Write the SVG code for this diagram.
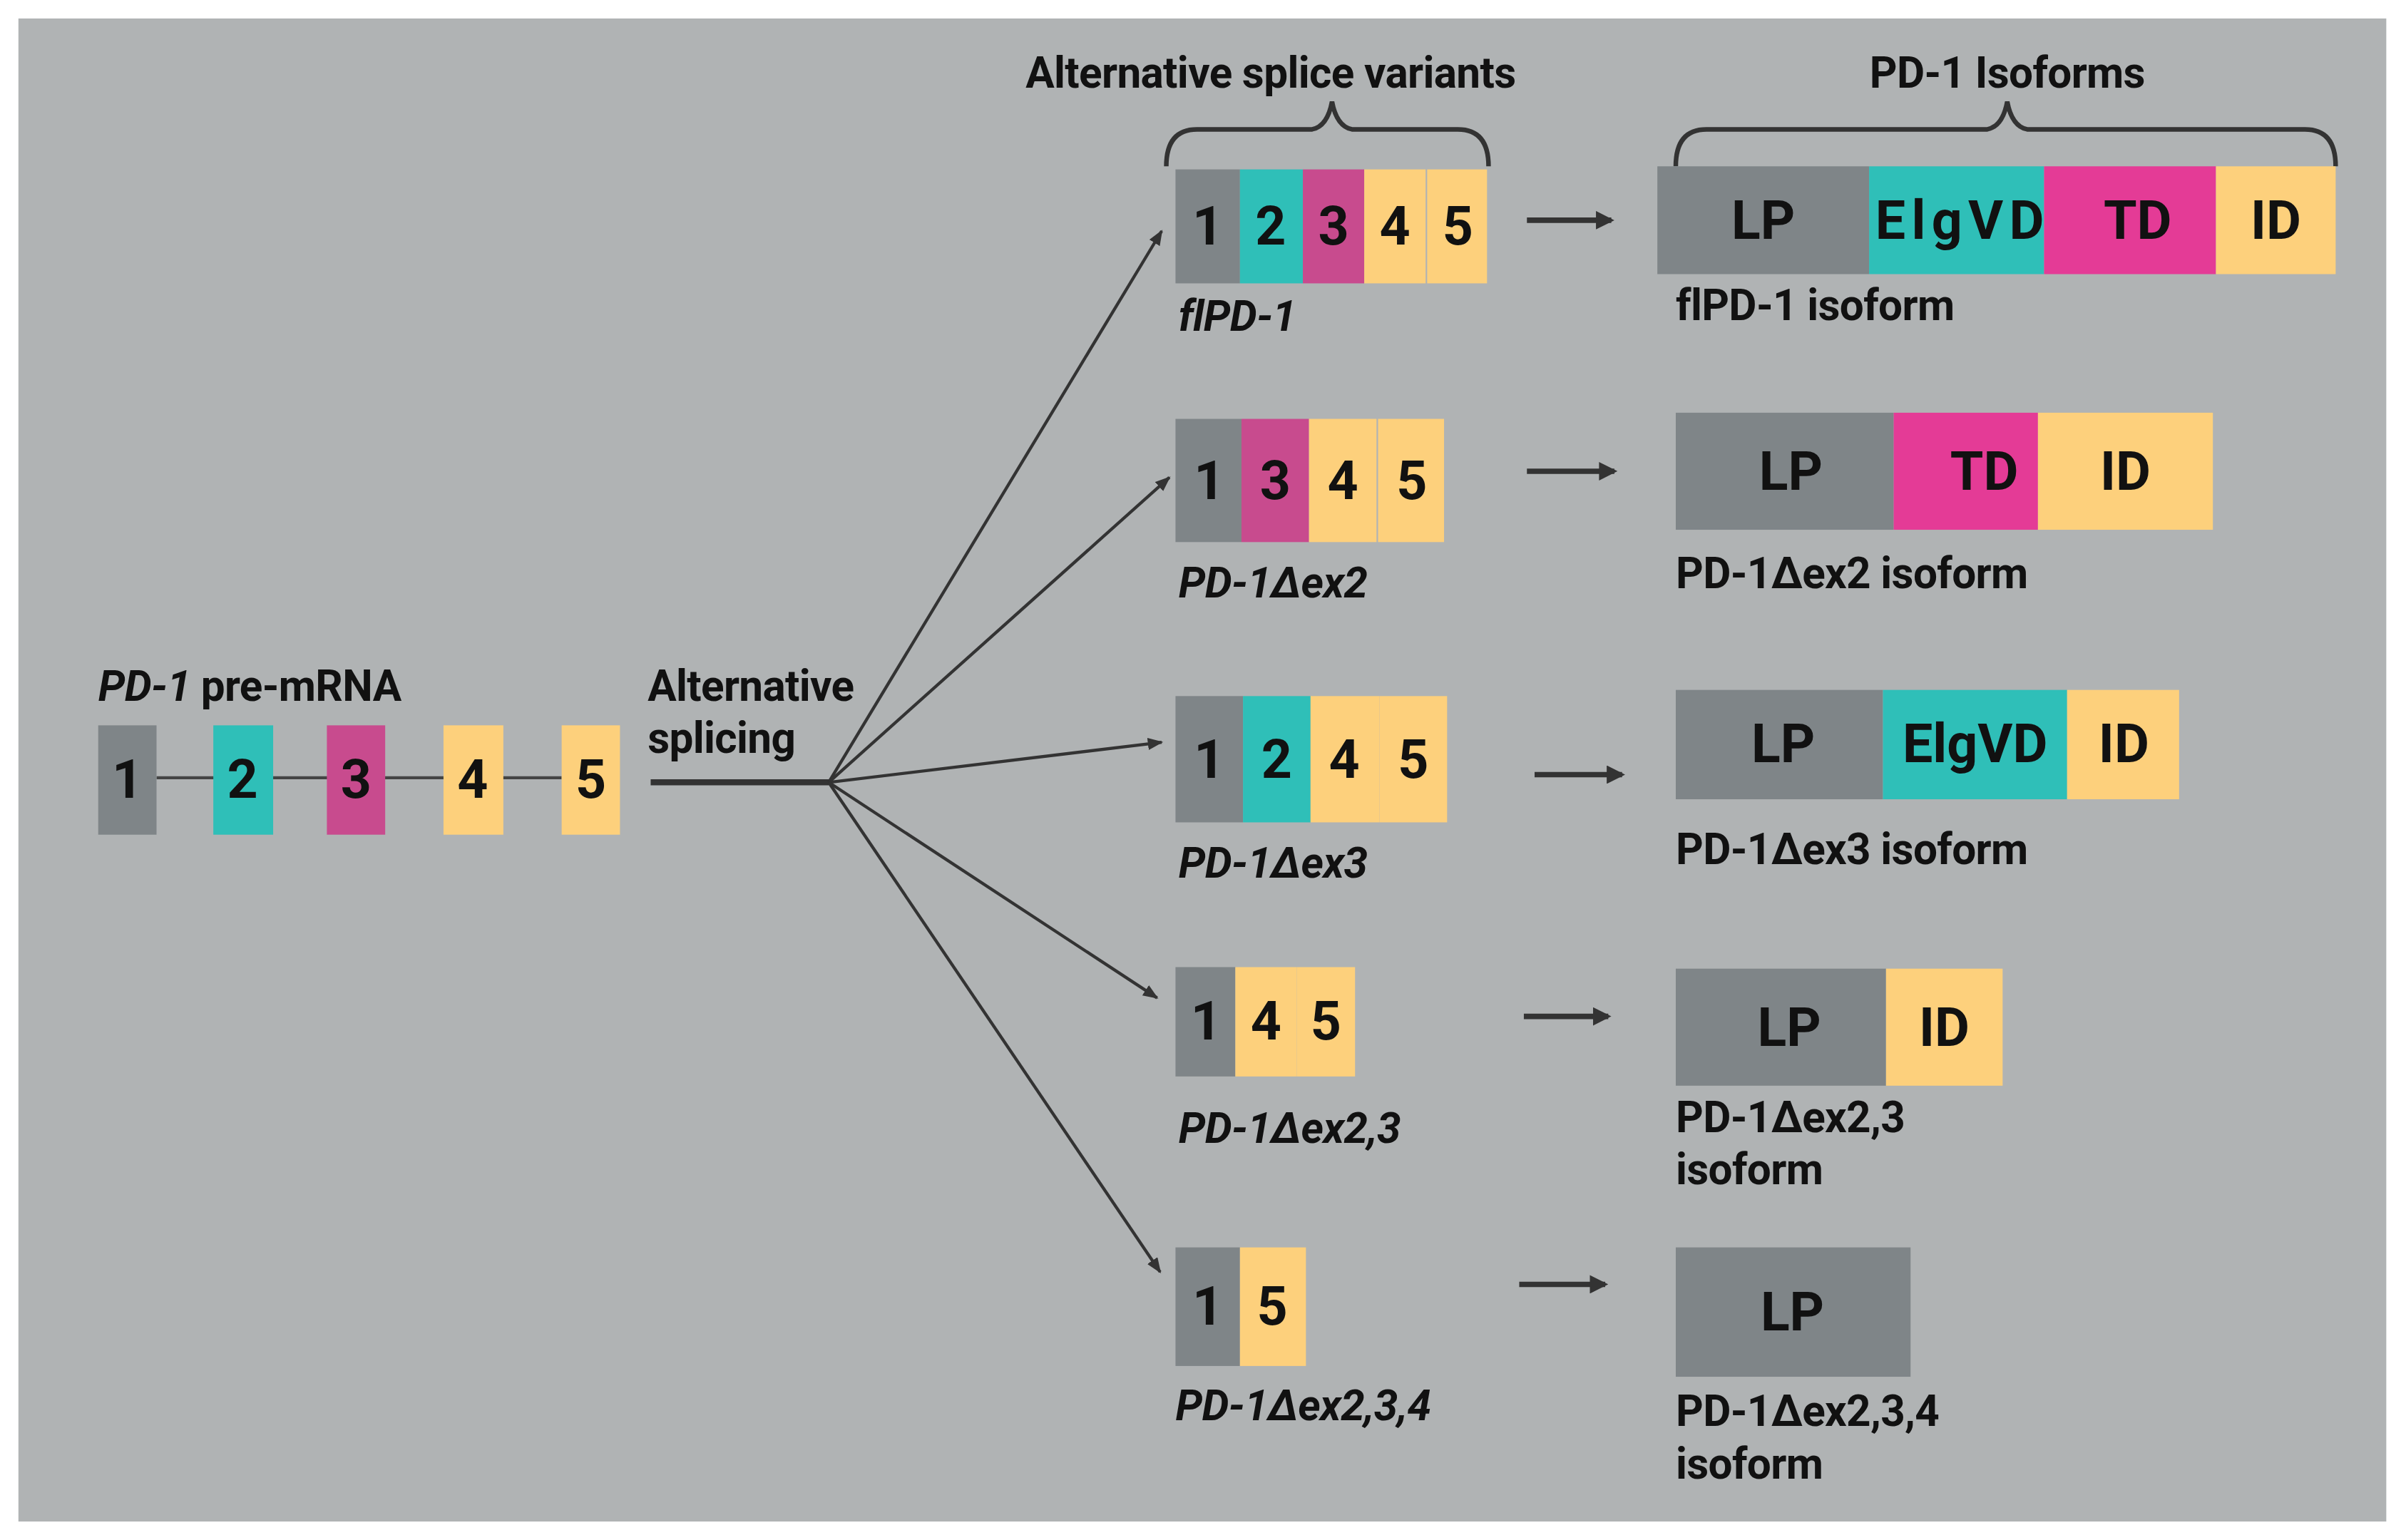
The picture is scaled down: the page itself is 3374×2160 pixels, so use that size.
<svg xmlns="http://www.w3.org/2000/svg" width="3374" height="2160" viewBox="0 0 3374 2160">
<style>
text{font-family:Roboto,"Liberation Sans",sans-serif;fill:#111}
.n{font-size:35px;font-weight:bold;text-anchor:middle}
.d{font-size:35px;font-weight:bold;text-anchor:middle}
.l{font-size:28px;font-weight:bold;letter-spacing:-0.3px}
.i{font-style:italic}
.g{fill:#7f8588}.t{fill:#2fbfb8}.m{fill:#c84b8e}.y{fill:#fdd07c}.p{fill:#e43b96}
.c{stroke:#333;stroke-width:2;fill:none}
.h{stroke:#333;stroke-width:3.5;fill:none}
.b{stroke:#333;stroke-width:3;fill:none}
</style>
<defs>
<marker id="a" markerWidth="10" markerHeight="8" refX="9" refY="4" orient="auto" markerUnits="userSpaceOnUse"><path d="M0,0L10,4L0,8z" fill="#333"/></marker>
<marker id="k" markerWidth="12" markerHeight="12" refX="10" refY="6" orient="auto" markerUnits="userSpaceOnUse"><path d="M0,0L12,6L0,12z" fill="#333"/></marker>
</defs>
<rect width="3374" height="2160" fill="#fff"/>
<g transform="scale(2.152,2.16)">
<rect x="12" y="12" width="1543" height="976" fill="#b0b3b4"/>
<g id="titles">
<text class="l" x="828" y="57" text-anchor="middle">Alternative splice variants</text>
<text class="l" x="1308" y="57" text-anchor="middle">PD-1 Isoforms</text>
<path class="b" d="M760,108 Q760,84 780,84 L855,84 Q865,82 868,66 Q871,82 881,84 L950,84 Q970,84 970,108"/>
<path class="b" d="M1092,108 Q1092,84 1112,84 L1295,84 Q1305,82 1308,66 Q1311,82 1321,84 L1502,84 Q1522,84 1522,108"/>
</g>
<g id="premrna">
<text class="l" x="64" y="455"><tspan class="i">PD-1</tspan> pre-mRNA</text>
<line x1="102" y1="505" x2="366" y2="505" stroke="#444" stroke-width="2"/>
<rect class="g" x="64" y="471" width="38" height="71"/><rect class="t" x="139" y="471" width="39" height="71"/><rect class="m" x="213" y="471" width="38" height="71"/><rect class="y" x="289" y="471" width="39" height="71"/><rect class="y" x="366" y="471" width="38" height="71"/>
<text class="n" x="83" y="518">1</text><text class="n" x="158" y="518">2</text><text class="n" x="232" y="518">3</text><text class="n" x="308" y="518">4</text><text class="n" x="385" y="518">5</text>
<text class="l" x="422" y="455">Alternative</text><text class="l" x="422" y="489">splicing</text>
</g>
<g id="connectors">
<line x1="424" y1="508" x2="540" y2="508" stroke="#333" stroke-width="4"/>
<line class="c" x1="540" y1="508" x2="757" y2="150" marker-end="url(#a)"/>
<line class="c" x1="540" y1="508" x2="762" y2="310" marker-end="url(#a)"/>
<line class="c" x1="540" y1="508" x2="757" y2="482" marker-end="url(#a)"/>
<line class="c" x1="540" y1="508" x2="754" y2="648" marker-end="url(#a)"/>
<line class="c" x1="540" y1="508" x2="756" y2="826" marker-end="url(#a)"/>
<line class="h" x1="995" y1="143" x2="1050" y2="143" marker-end="url(#k)"/>
<line class="h" x1="995" y1="306" x2="1052" y2="306" marker-end="url(#k)"/>
<line class="h" x1="1000" y1="503" x2="1057" y2="503" marker-end="url(#k)"/>
<line class="h" x1="993" y1="660" x2="1048" y2="660" marker-end="url(#k)"/>
<line class="h" x1="990" y1="834" x2="1046" y2="834" marker-end="url(#k)"/>
</g>
<g id="v1">
<rect class="g" x="766" y="110" width="42" height="74"/><rect class="t" x="808" y="110" width="41" height="74"/><rect class="m" x="849" y="110" width="40" height="74"/><rect class="y" x="889" y="110" width="40" height="74"/><rect class="y" x="930" y="110" width="39" height="74"/>
<text class="n" x="787" y="159">1</text><text class="n" x="828" y="159">2</text><text class="n" x="869" y="159">3</text><text class="n" x="909" y="159">4</text><text class="n" x="950" y="159">5</text>
<text class="l i" x="768" y="215">flPD-1</text>
</g>
<g id="i1">
<rect class="g" x="1080" y="108" width="138" height="70"/><rect class="t" x="1218" y="108" width="114" height="70"/><rect class="p" x="1332" y="108" width="112" height="70"/><rect class="y" x="1444" y="108" width="78" height="70"/>
<text class="d" x="1149" y="155">LP</text><text class="d" x="1277" y="155" textLength="110">ElgVD</text><text class="d" x="1393" y="155">TD</text><text class="d" x="1483" y="155">ID</text>
<text class="l" x="1092" y="208">flPD-1 isoform</text>
</g>
<g id="v2">
<rect class="g" x="766" y="272" width="43" height="80"/><rect class="m" x="809" y="272" width="44" height="80"/><rect class="y" x="853" y="272" width="44" height="80"/><rect class="y" x="898" y="272" width="43" height="80"/>
<text class="n" x="788" y="324">1</text><text class="n" x="831" y="324">3</text><text class="n" x="875" y="324">4</text><text class="n" x="920" y="324">5</text>
<text class="l i" x="768" y="388">PD-1Δex2</text>
</g>
<g id="i2">
<rect class="g" x="1092" y="268" width="142" height="76"/><rect class="p" x="1234" y="268" width="94" height="76"/><rect class="y" x="1328" y="268" width="114" height="76"/>
<text class="d" x="1167" y="318">LP</text><text class="d" x="1293" y="318">TD</text><text class="d" x="1385" y="318">ID</text>
<text class="l" x="1092" y="382">PD-1Δex2 isoform</text>
</g>
<g id="v3">
<rect class="g" x="766" y="452" width="44" height="82"/><rect class="t" x="810" y="452" width="44" height="82"/><rect class="y" x="854" y="452" width="45" height="82"/><rect class="y" x="899" y="452" width="44" height="82"/>
<text class="n" x="788" y="505">1</text><text class="n" x="832" y="505">2</text><text class="n" x="876" y="505">4</text><text class="n" x="921" y="505">5</text>
<text class="l i" x="768" y="570">PD-1Δex3</text>
</g>
<g id="i3">
<rect class="g" x="1092" y="448" width="135" height="71"/><rect class="t" x="1227" y="448" width="120" height="71"/><rect class="y" x="1347" y="448" width="73" height="71"/>
<text class="d" x="1162" y="495">LP</text><text class="d" x="1287" y="495">ElgVD</text><text class="d" x="1384" y="495">ID</text>
<text class="l" x="1092" y="561">PD-1Δex3 isoform</text>
</g>
<g id="v4">
<rect class="g" x="766" y="628" width="39" height="71"/><rect class="y" x="805" y="628" width="40" height="71"/><rect class="y" x="845" y="628" width="38" height="71"/>
<text class="n" x="786" y="675">1</text><text class="n" x="825" y="675">4</text><text class="n" x="864" y="675">5</text>
<text class="l i" x="768" y="742">PD-1Δex2,3</text>
</g>
<g id="i4">
<rect class="g" x="1092" y="629" width="137" height="76"/><rect class="y" x="1229" y="629" width="76" height="76"/>
<text class="d" x="1166" y="679">LP</text><text class="d" x="1267" y="679">ID</text>
<text class="l" x="1092" y="735">PD-1Δex2,3</text><text class="l" x="1092" y="769">isoform</text>
</g>
<g id="v5">
<rect class="g" x="766" y="810" width="42" height="77"/><rect class="y" x="808" y="810" width="43" height="77"/>
<text class="n" x="787" y="860">1</text><text class="n" x="829" y="860">5</text>
<text class="l i" x="766" y="922">PD-1Δex2,3,4</text>
</g>
<g id="i5">
<rect class="g" x="1092" y="810" width="153" height="84"/>
<text class="d" x="1168" y="864">LP</text>
<text class="l" x="1092" y="926">PD-1Δex2,3,4</text><text class="l" x="1092" y="960">isoform</text>
</g>
</g>
</svg>
